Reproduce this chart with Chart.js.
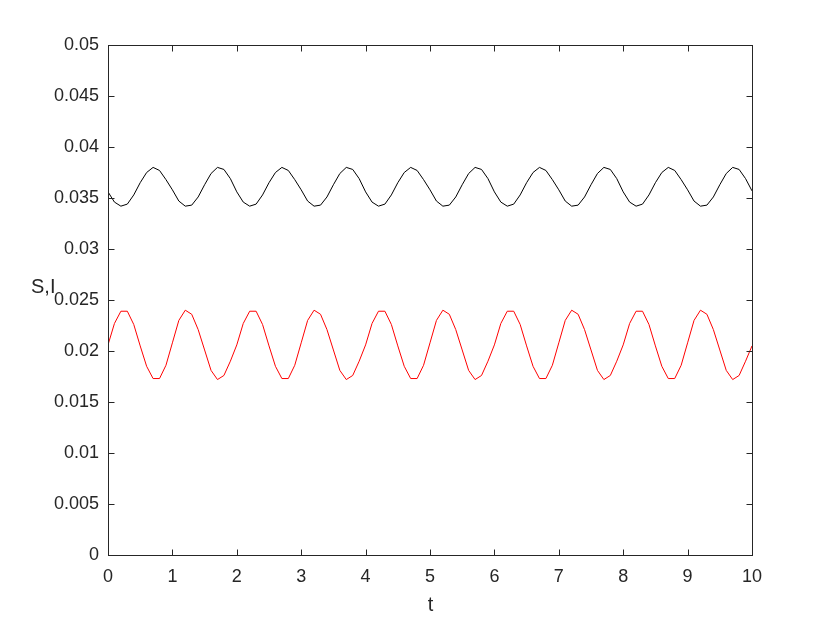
<!DOCTYPE html>
<html>
<head>
<meta charset="utf-8">
<script src="https://cdn.jsdelivr.net/npm/chart.js@4/dist/chart.umd.min.js"></script>
<style>
  body { margin: 0; background: #ffffff; }
  #wrap { width: 830px; height: 623px; }
</style>
</head>
<body>
<div id="wrap"><canvas id="siChart" width="830" height="623"></canvas></div>
<script>
// time samples (t), every 0.1
const tValues = [
  0, 0.1, 0.2, 0.3, 0.4, 0.5, 0.6, 0.7, 0.8, 0.9,
  1, 1.1, 1.2, 1.3, 1.4, 1.5, 1.6, 1.7, 1.8, 1.9,
  2, 2.1, 2.2, 2.3, 2.4, 2.5, 2.6, 2.7, 2.8, 2.9,
  3, 3.1, 3.2, 3.3, 3.4, 3.5, 3.6, 3.7, 3.8, 3.9,
  4, 4.1, 4.2, 4.3, 4.4, 4.5, 4.6, 4.7, 4.8, 4.9,
  5, 5.1, 5.2, 5.3, 5.4, 5.5, 5.6, 5.7, 5.8, 5.9,
  6, 6.1, 6.2, 6.3, 6.4, 6.5, 6.6, 6.7, 6.8, 6.9,
  7, 7.1, 7.2, 7.3, 7.4, 7.5, 7.6, 7.7, 7.8, 7.9,
  8, 8.1, 8.2, 8.3, 8.4, 8.5, 8.6, 8.7, 8.8, 8.9,
  9, 9.1, 9.2, 9.3, 9.4, 9.5, 9.6, 9.7, 9.8, 9.9,
  10
];

// S (black curve)
const sValues = [
  0.0356, 0.0346, 0.0342, 0.0344, 0.0353, 0.0365, 0.0375, 0.0380, 0.0377, 0.0368,
  0.0358, 0.0347, 0.0342, 0.0343, 0.0351, 0.0363, 0.0374, 0.0380, 0.0378, 0.0369,
  0.0356, 0.0346, 0.0342, 0.0344, 0.0353, 0.0365, 0.0375, 0.0380, 0.0377, 0.0368,
  0.0358, 0.0347, 0.0342, 0.0343, 0.0351, 0.0363, 0.0374, 0.0380, 0.0378, 0.0369,
  0.0356, 0.0346, 0.0342, 0.0344, 0.0353, 0.0365, 0.0375, 0.0380, 0.0377, 0.0368,
  0.0358, 0.0347, 0.0342, 0.0343, 0.0351, 0.0363, 0.0374, 0.0380, 0.0378, 0.0369,
  0.0356, 0.0346, 0.0342, 0.0344, 0.0353, 0.0365, 0.0375, 0.0380, 0.0377, 0.0368,
  0.0358, 0.0347, 0.0342, 0.0343, 0.0351, 0.0363, 0.0374, 0.0380, 0.0378, 0.0369,
  0.0356, 0.0346, 0.0342, 0.0344, 0.0353, 0.0365, 0.0375, 0.0380, 0.0377, 0.0368,
  0.0358, 0.0347, 0.0342, 0.0343, 0.0351, 0.0363, 0.0374, 0.0380, 0.0378, 0.0369,
  0.0357
];

// I (red curve)
const iValues = [
  0.0206, 0.0227, 0.0239, 0.0239, 0.0226, 0.0205, 0.0185, 0.0173, 0.0173, 0.0186,
  0.0208, 0.0230, 0.0240, 0.0236, 0.0221, 0.0201, 0.0181, 0.0172, 0.0176, 0.0190,
  0.0206, 0.0227, 0.0239, 0.0239, 0.0226, 0.0205, 0.0185, 0.0173, 0.0173, 0.0186,
  0.0208, 0.0230, 0.0240, 0.0236, 0.0221, 0.0201, 0.0181, 0.0172, 0.0176, 0.0190,
  0.0206, 0.0227, 0.0239, 0.0239, 0.0226, 0.0205, 0.0185, 0.0173, 0.0173, 0.0186,
  0.0208, 0.0230, 0.0240, 0.0236, 0.0221, 0.0201, 0.0181, 0.0172, 0.0176, 0.0190,
  0.0206, 0.0227, 0.0239, 0.0239, 0.0226, 0.0205, 0.0185, 0.0173, 0.0173, 0.0186,
  0.0208, 0.0230, 0.0240, 0.0236, 0.0221, 0.0201, 0.0181, 0.0172, 0.0176, 0.0190,
  0.0206, 0.0227, 0.0239, 0.0239, 0.0226, 0.0205, 0.0185, 0.0173, 0.0173, 0.0186,
  0.0208, 0.0230, 0.0240, 0.0236, 0.0221, 0.0201, 0.0181, 0.0172, 0.0176, 0.0190,
  0.0205
];

const xTicks = [0, 1, 2, 3, 4, 5, 6, 7, 8, 9, 10];
const yTicks = [0, 0.005, 0.01, 0.015, 0.02, 0.025, 0.03, 0.035, 0.04, 0.045, 0.05];
const yTickLabels = ['0', '0.005', '0.01', '0.015', '0.02', '0.025', '0.03', '0.035', '0.04', '0.045', '0.05'];

const axisColor = '#262626';
const fontFamily = '"Liberation Sans", Arial, Helvetica, sans-serif';

const toPoints = (ys) => {
    let pts = [];
    for (let i = 0; i < tValues.length; i++) {
        pts.push({ x: tValues[i], y: ys[i] });
    }
    return pts;
};

// matlab style box, inward ticks and the two axis labels
const matlabBox = {
    id: 'matlabBox',
    afterDraw(chart) {
        const ctx = chart.ctx;
        const xs = chart.scales.x;
        const ys = chart.scales.y;
        const tick = 6;
        // snap the box to the same pixels as the ticks
        const left = Math.round(xs.getPixelForValue(xTicks[0])) + 0.5;
        const right = Math.round(xs.getPixelForValue(xTicks[xTicks.length - 1])) + 0.5;
        const bottom = Math.round(ys.getPixelForValue(yTicks[0])) + 0.5;
        const top = Math.round(ys.getPixelForValue(yTicks[yTicks.length - 1])) + 0.5;
        ctx.save();
        ctx.strokeStyle = axisColor;
        ctx.lineWidth = 1;
        ctx.strokeRect(left, top, right - left, bottom - top);
        ctx.beginPath();
        for (const v of xTicks) {
            const px = Math.round(xs.getPixelForValue(v)) + 0.5;
            ctx.moveTo(px, bottom);
            ctx.lineTo(px, bottom - tick);
            ctx.moveTo(px, top);
            ctx.lineTo(px, top + tick);
        }
        for (const v of yTicks) {
            const py = Math.round(ys.getPixelForValue(v)) + 0.5;
            ctx.moveTo(left, py);
            ctx.lineTo(left + tick, py);
            ctx.moveTo(right, py);
            ctx.lineTo(right - tick, py);
        }
        ctx.stroke();

        ctx.fillStyle = axisColor;
        ctx.font = '20px ' + fontFamily;
        ctx.textBaseline = 'middle';
        ctx.textAlign = 'center';
        ctx.fillText('t', (left + right) / 2, 605);
        ctx.textAlign = 'left';
        ctx.fillText('S,I', 31, 287);
        ctx.restore();
    }
};

const siChart = new Chart(document.getElementById('siChart'), {
    type: 'line',
    data: {
        datasets: [
            {
                label: 'S',
                data: toPoints(sValues),
                borderColor: '#000000',
                borderWidth: 1,
                pointRadius: 0,
                tension: 0,
                fill: false
            },
            {
                label: 'I',
                data: toPoints(iValues),
                borderColor: '#ff0000',
                borderWidth: 1,
                pointRadius: 0,
                tension: 0,
                fill: false
            }
        ]
    },
    options: {
        responsive: false,
        animation: false,
        layout: { padding: { left: 0, top: 45, right: 78, bottom: 0 } },
        plugins: {
            legend: { display: false },
            tooltip: { enabled: false }
        },
        scales: {
            x: {
                type: 'linear',
                min: 0,
                max: 10,
                afterBuildTicks: (scale) => { scale.ticks = xTicks.map(v => ({ value: v })); },
                afterFit: (scale) => { scale.height = 68; },
                grid: { display: false, drawTicks: false },
                border: { display: false },
                ticks: {
                    color: axisColor,
                    font: { family: fontFamily, size: 18 },
                    padding: 11,
                    maxRotation: 0,
                    callback: (v) => String(v)
                }
            },
            y: {
                type: 'linear',
                min: 0,
                max: 0.05,
                afterBuildTicks: (scale) => { scale.ticks = yTicks.map(v => ({ value: v })); },
                afterFit: (scale) => { scale.width = 108; },
                grid: { display: false, drawTicks: false },
                border: { display: false },
                ticks: {
                    color: axisColor,
                    font: { family: fontFamily, size: 18 },
                    padding: 9,
                    callback: (v, i) => yTickLabels[i]
                }
            }
        }
    },
    plugins: [matlabBox]
});
</script>
</body>
</html>
